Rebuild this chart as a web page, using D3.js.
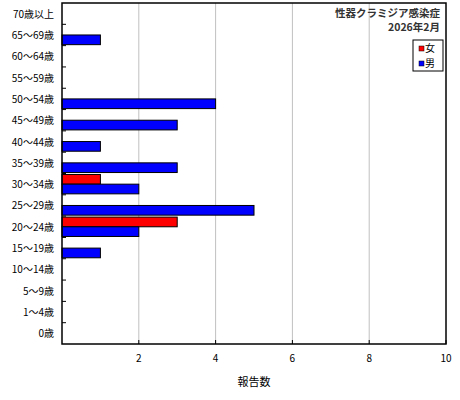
<!DOCTYPE html>
<html><head><meta charset="utf-8">
<script src="https://cdn.jsdelivr.net/npm/d3@7"></script>
<style>body{margin:0;background:#fff}text{font-family:"Noto Sans CJK JP",sans-serif}</style>
</head><body><svg id="c" width="460" height="400"></svg>
<script>
const categories = ["70歳以上","65〜69歳","60〜64歳","55〜59歳","50〜54歳","45〜49歳","40〜44歳","35〜39歳","30〜34歳","25〜29歳","20〜24歳","15〜19歳","10〜14歳","5〜9歳","1〜4歳","0歳"];
const female = [0,0,0,0,0,0,0,0,1,0,3,0,0,0,0,0];
const male   = [0,1,0,0,4,3,1,3,2,5,2,1,0,0,0,0];
const xTicks = [2,4,6,8,10];

const svg = d3.select("#c");
const L = 62, R = 446, T = 3, B = 344;
const x = d3.scaleLinear().domain([0,10]).range([L,R]);
const y = d3.scaleBand().domain(categories).range([T,B]);
const sub = d3.scaleBand().domain(["f","m"]).range([0,y.bandwidth()]).paddingOuter(0.1);

svg.append("g").selectAll("line").data([2,4,6,8]).enter().append("line")
  .attr("x1",d=>x(d)).attr("x2",d=>x(d)).attr("y1",T).attr("y2",B)
  .attr("stroke","#c0c0c0");

const series = [{k:"f",vals:female,col:"#ff0000"},{k:"m",vals:male,col:"#0000ff"}];
series.forEach(s=>{
  svg.append("g").selectAll("rect").data(categories.map((c,i)=>({c,v:s.vals[i]})).filter(d=>d.v>0))
    .enter().append("rect")
    .attr("x",x(0)).attr("y",d=>y(d.c)+sub(s.k))
    .attr("width",d=>x(d.v)-x(0)).attr("height",sub.bandwidth())
    .attr("fill",s.col).attr("stroke","#000");
});

svg.append("rect").attr("x",L).attr("y",T).attr("width",R-L).attr("height",B-T)
  .attr("fill","none").attr("stroke","#000").attr("stroke-width",1.5);

// y ticks at band boundaries
svg.append("g").selectAll("line").data(categories.slice(1)).enter().append("line")
  .attr("x1",L).attr("x2",L+4).attr("y1",d=>y(d)).attr("y2",d=>y(d)).attr("stroke","#000");
svg.append("g").selectAll("text").data(categories).enter().append("text")
  .attr("x",L-8).attr("y",d=>y(d)+y.bandwidth()/2+4).attr("text-anchor","end")
  .attr("font-size",10).text(d=>d);

svg.append("g").selectAll("line").data(xTicks).enter().append("line")
  .attr("x1",d=>x(d)).attr("x2",d=>x(d)).attr("y1",B).attr("y2",B-4).attr("stroke","#000");
svg.append("g").selectAll("text").data(xTicks).enter().append("text")
  .attr("x",d=>x(d)).attr("y",B+18).attr("text-anchor","middle").attr("font-size",10).text(d=>d);

svg.append("text").attr("x",x(5)).attr("y",386).attr("text-anchor","middle").attr("font-size",11).text("報告数");

svg.append("text").attr("x",440).attr("y",17).attr("text-anchor","end").attr("font-size",10.5).attr("font-weight","bold").attr("fill","#333").text("性器クラミジア感染症");
svg.append("text").attr("x",440).attr("y",31).attr("text-anchor","end").attr("font-size",10.5).attr("font-weight","bold").attr("fill","#333").text("2026年2月");

const lg = svg.append("g");
lg.append("rect").attr("x",413).attr("y",40).attr("width",30).attr("height",31).attr("fill","#fff").attr("stroke","#000");
series.forEach((s,i)=>{
  lg.append("rect").attr("x",419).attr("y",46+i*15).attr("width",5).attr("height",5).attr("fill",s.col).attr("stroke","#000").attr("stroke-width",0.5);
  lg.append("text").attr("x",425).attr("y",52+i*15).attr("font-size",10).text(s.k==="f"?"女":"男");
});
</script></body></html>
